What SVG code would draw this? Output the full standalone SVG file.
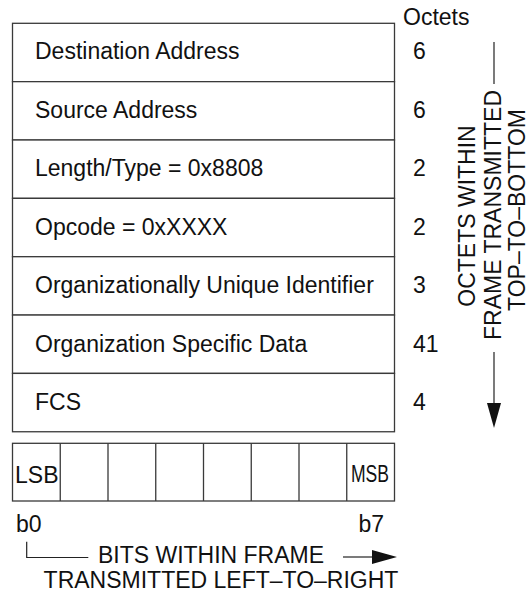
<svg xmlns="http://www.w3.org/2000/svg" width="530" height="592" viewBox="0 0 530 592">
<style>
text{font-family:"Liberation Sans",Arial,sans-serif;font-size:23px;fill:#111}
.box{fill:#fff;stroke:#3a3a3a;stroke-width:1.3}
.ln{stroke:#222;stroke-width:1.2;fill:none}
.ah{fill:#111}
</style>
<rect width="530" height="592" fill="#fff"/>
<g id="frame">
<g id="row-da"><rect class="box" x="12.5" y="23.3" width="382" height="58.35"/><text x="35" y="59">Destination Address</text><text x="413" y="59">6</text></g>
<g id="row-sa"><rect class="box" x="12.5" y="81.65" width="382" height="58.35"/><text x="35" y="117.5">Source Address</text><text x="413" y="117.5">6</text></g>
<g id="row-lt"><rect class="box" x="12.5" y="140" width="382" height="58.35"/><text x="35" y="176">Length/Type = 0x8808</text><text x="413" y="176">2</text></g>
<g id="row-op"><rect class="box" x="12.5" y="198.35" width="382" height="58.35"/><text x="35" y="234.5">Opcode = 0xXXXX</text><text x="413" y="234.5">2</text></g>
<g id="row-oui"><rect class="box" x="12.5" y="256.7" width="382" height="58.35"/><text x="35" y="293">Organizationally Unique Identifier</text><text x="413" y="293">3</text></g>
<g id="row-osd"><rect class="box" x="12.5" y="315.05" width="382" height="58.35"/><text x="35" y="351.5">Organization Specific Data</text><text x="413" y="351.5">41</text></g>
<g id="row-fcs"><rect class="box" x="12.5" y="373.4" width="382" height="58.35"/><text x="35" y="410">FCS</text><text x="413" y="410">4</text></g>
</g>
<g id="octets-label"><text x="403" y="25">Octets</text></g>
<g id="bits">
<rect class="box" x="12.5" y="443.3" width="382" height="57.7"/>
<path class="box" d="M60.25 443.3V501M108 443.3V501M155.75 443.3V501M203.5 443.3V501M251.25 443.3V501M299 443.3V501M346.75 443.3V501"/>
<text x="15" y="483">LSB</text>
<text x="351" y="482" textLength="38" lengthAdjust="spacingAndGlyphs">MSB</text>
<text x="16" y="532">b0</text>
<text x="384" y="532" text-anchor="end">b7</text>
</g>
<g id="vertical-label">
<text transform="translate(475,216) rotate(-90)" text-anchor="middle">OCTETS WITHIN</text>
<text transform="translate(501,215) rotate(-90)" text-anchor="middle">FRAME TRANSMITTED</text>
<text transform="translate(525,210) rotate(-90)" text-anchor="middle">TOP–TO–BOTTOM</text>
</g>
<g id="horizontal-label">
<text x="211" y="563" text-anchor="middle">BITS WITHIN FRAME</text>
<text x="221" y="588" text-anchor="middle">TRANSMITTED LEFT–TO–RIGHT</text>
</g>
<g id="connectors">
<path class="ln" d="M494 42V84"/>
<path class="ln" d="M494 352V406"/>
<path class="ah" d="M487 403H501L494 428Z"/>
<path class="ln" d="M26.7 541.7V557.5H88.3"/>
<path class="ln" d="M343 557H375"/>
<path class="ah" d="M372 550V564L397 557Z"/>
</g>
</svg>
